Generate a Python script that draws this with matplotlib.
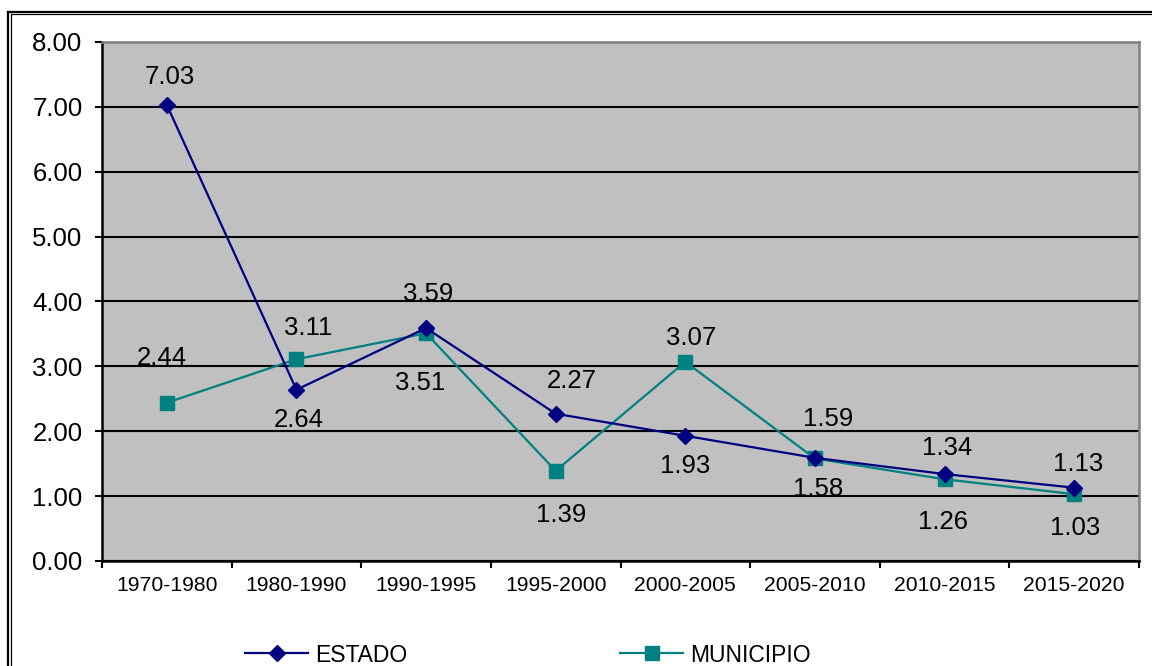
import matplotlib
matplotlib.use('Agg')
import matplotlib.pyplot as plt
from matplotlib.lines import Line2D

# Periods and growth rates
PERIODS = ['1970-1980', '1980-1990', '1990-1995', '1995-2000',
           '2000-2005', '2005-2010', '2010-2015', '2015-2020']
ESTADO = [7.03, 2.64, 3.59, 2.27, 1.93, 1.59, 1.34, 1.13]
MUNICIPIO = [2.44, 3.11, 3.51, 1.39, 3.07, 1.58, 1.26, 1.03]
Y_TICKS = [0, 1, 2, 3, 4, 5, 6, 7, 8]

# label offsets in pixels (dx, dy; dy positive = up), as Excel placed them
EST_OFF = [(3, 28), (2, -30), (2, 34), (16, 33), (0, -30), (13, 39), (3, 26), (4, 24)]
MUN_OFF = [(-5, 45), (12, 31), (-6, -50), (5, -44), (6, 24), (3, -31), (-2, -43), (1, -34)]

FONT = ['Liberation Sans', 'DejaVu Sans']
NAVY = '#000080'
TEAL = '#008080'

plt.rcParams['font.family'] = FONT

fig = plt.figure(figsize=(11.52, 6.66), dpi=100)
W, H = 1152, 666
ax = fig.add_axes([102 / W, 1 - 561 / H, (1139 - 102) / W, (561 - 42) / H])
ax.set_facecolor('#C0C0C0')

x = list(range(len(PERIODS)))
ax.plot(x, ESTADO, color=NAVY, lw=1.6, marker='D', ms=8, mfc=NAVY, mec=NAVY,
        label='ESTADO', zorder=4)
ax.plot(x, MUNICIPIO, color=TEAL, lw=1.6, marker='s', ms=10, mfc=TEAL, mec=TEAL,
        label='MUNICIPIO', zorder=3)

for xi, v, (dx, dy) in zip(x, ESTADO, EST_OFF):
    ax.annotate(f'{v:.2f}', (xi, v), xytext=(dx, dy), textcoords='offset pixels',
                ha='center', va='center', fontsize=18.5, color='black', zorder=5)
for xi, v, (dx, dy) in zip(x, MUNICIPIO, MUN_OFF):
    ax.annotate(f'{v:.2f}', (xi, v), xytext=(dx, dy), textcoords='offset pixels',
                ha='center', va='center', fontsize=18.5, color='black', zorder=5)

ax.set_xlim(-0.5, len(PERIODS) - 0.5)
ax.set_ylim(0, 8)
ax.set_yticks(Y_TICKS)
ax.set_yticklabels([f'{t:.2f}' for t in Y_TICKS], fontsize=18.5)
ax.yaxis.grid(True, color='black', lw=1.5)
ax.set_axisbelow(True)

# ticks at category boundaries, labels at centres
ax.set_xticks([i - 0.5 for i in range(len(PERIODS) + 1)])
ax.set_xticklabels([])
ax.set_xticks(x, minor=True)
ax.set_xticklabels(PERIODS, minor=True, fontsize=15.2)
ax.tick_params(axis='x', which='major', length=5, width=1.5, direction='out')
ax.tick_params(axis='x', which='minor', length=0, pad=11)
ax.tick_params(axis='y', length=5, width=1.5, direction='out', pad=9)

for side in ('left', 'bottom'):
    ax.spines[side].set_color('black')
    ax.spines[side].set_linewidth(1.8)
for side in ('top', 'right'):
    ax.spines[side].set_color('#808080')
    ax.spines[side].set_linewidth(1.8)

# legend along the bottom edge
handles, labels = ax.get_legend_handles_labels()
leg = fig.legend(handles, labels, loc='center left',
                 bbox_to_anchor=(245 / W, 1 - 655 / H), ncol=2, frameon=False,
                 borderpad=0, borderaxespad=0, handlelength=2.75,
                 handletextpad=0.3, columnspacing=9.3,
                 prop={'size': 16.5})

# double chart frame (right and bottom sides fall outside the picture)
fig.add_artist(Line2D([7.5 / W, 7.5 / W], [1 - 11.5 / H, -0.1], color='black',
                      lw=1.6, transform=fig.transFigure))
fig.add_artist(Line2D([7.5 / W, 1.1], [1 - 11.5 / H, 1 - 11.5 / H], color='black',
                      lw=1.6, transform=fig.transFigure))
fig.add_artist(Line2D([10.5 / W, 10.5 / W], [1 - 14 / H, -0.1], color='black',
                      lw=0.9, transform=fig.transFigure))
fig.add_artist(Line2D([10.5 / W, 1.1], [1 - 14 / H, 1 - 14 / H], color='black',
                      lw=0.9, transform=fig.transFigure))

fig.savefig('out.png', dpi=100, facecolor='white')
